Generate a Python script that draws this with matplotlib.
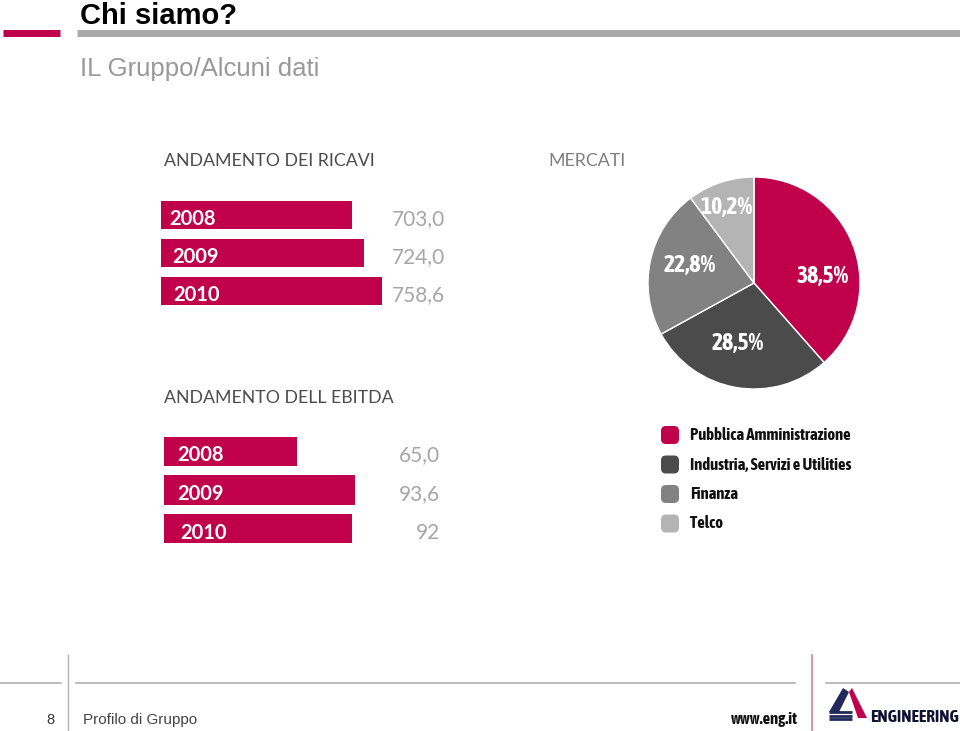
import matplotlib
matplotlib.use("Agg")
import numpy as np
import matplotlib.pyplot as plt
from matplotlib.patches import FancyBboxPatch, Polygon
from matplotlib.transforms import blended_transform_factory

# --- data ---
rev_years = ["2008", "2009", "2010"]
rev_values = [703.0, 724.0, 758.6]
rev_labels = ["703,0", "724,0", "758,6"]

ebitda_years = ["2008", "2009", "2010"]
ebitda_values = [65.0, 93.6, 92.0]
ebitda_labels = ["65,0", "93,6", "92"]

markets = ["Pubblica Amministrazione", "Industria, Servizi e Utilities", "Finanza", "Telco"]
market_share = [38.5, 28.5, 22.8, 10.2]
market_colors = ["#c0004a", "#4b4b4b", "#828282", "#b4b4b4"]

RED = "#c0004a"
W, H = 960, 731
BODY = ["Lato", "DejaVu Sans"]
COND = dict(family=["Asap Condensed", "DejaVu Sans"], fontweight="bold")

fig = plt.figure(figsize=(W / 100, H / 100), dpi=100)


def px_axes(left, top, width, height):
    # axes placed in pixel coords (origin top-left)
    return fig.add_axes([left / W, 1 - (top + height) / H, width / W, height / H])


def hbar_panel(ax, years, values, labels, xlim, year_x, value_x):
    pos = range(len(values))
    ax.barh(list(pos), values, height=0.76, color=RED, left=0)
    ax.set_xlim(*xlim)
    ax.set_ylim(len(values) - 0.5, -0.5)
    ax.axis("off")
    tr = blended_transform_factory(ax.transAxes, ax.transData)
    for i, (yr, lab) in enumerate(zip(years, labels)):
        ax.text(year_x[i], i + 0.1, yr, transform=tr, color="white", fontsize=14.5,
                fontweight="bold", family=BODY, va="center", ha="left")
        ax.text(value_x, i + 0.1, lab, transform=tr, color="#a6a6a6", fontsize=15,
                family=BODY, va="center", ha="right")


# overlay for page furniture
ov = fig.add_axes([0, 0, 1, 1])
ov.set_xlim(0, W)
ov.set_ylim(H, 0)
ov.axis("off")
ov.patch.set_alpha(0)

ov.text(80, 24, "Chi siamo?", fontsize=21, fontweight="bold", family="Liberation Sans",
        color="black", va="baseline")
ov.plot([3, 60], [33, 33], color=RED, lw=5, solid_capstyle="butt")
ov.plot([77, 960], [33, 33], color="#aaaaaa", lw=5, solid_capstyle="butt")
ov.text(80, 76, "IL Gruppo/Alcuni dati", fontsize=18.5, family="Liberation Sans",
        color="#999999", va="baseline")

ov.text(164, 166, "ANDAMENTO DEI RICAVI", fontsize=12.8, family=BODY, color="#4d4d4d",
        va="baseline")
ov.text(548, 166, "MERCATI", fontsize=12.8, family=BODY, color="#7f7f7f", va="baseline")
ov.text(164, 403, "ANDAMENTO DELL EBITDA", fontsize=12.8, family=BODY, color="#4d4d4d",
        va="baseline")

# revenue bars: axis cut at 349 so bar lengths match the slide
ax1 = px_axes(161, 196, 300, 114)
hbar_panel(ax1, rev_years, rev_values, rev_labels, (349, 349 + 300 / 0.54),
           [0.028, 0.038, 0.04], 0.947)

# EBITDA bars
ax2 = px_axes(164, 432, 300, 116)
hbar_panel(ax2, ebitda_years, ebitda_values, ebitda_labels, (0, 300 / 2.04),
           [0.045, 0.045, 0.055], 0.92)

# pie
ax3 = px_axes(648, 177, 212, 212)
wedges, _ = ax3.pie(
    market_share, colors=market_colors, startangle=90, counterclock=False,
    radius=1, wedgeprops=dict(edgecolor="white", linewidth=1.0))
# label placement as on the slide: angle shift (deg) and radius per wedge
lab_shift = [-15, -5, -3, 2]
lab_r = [0.65, 0.59, 0.63, 0.76]
for w, share, dth, r in zip(wedges, market_share, lab_shift, lab_r):
    th = np.deg2rad((w.theta1 + w.theta2) / 2 + dth)
    ax3.text(r * np.cos(th), r * np.sin(th), f"{share:.1f}%".replace(".", ","),
             color="white", fontsize=17, ha="center", va="center", **COND)
ax3.set_xlim(-1, 1)
ax3.set_ylim(-1, 1)
ax3.set_aspect("equal")

# legend
for i, (name, col) in enumerate(zip(markets, market_colors)):
    y = 435 + i * 29.5
    ov.add_patch(FancyBboxPatch((661, y - 9), 18, 18, boxstyle="round,pad=0,rounding_size=5",
                                facecolor=col, edgecolor="none"))
    ov.text(690, y, name, fontsize=12, color="#111111", va="center", **COND)

# footer
for x0, x1 in [(0, 61), (76, 795), (826, 960)]:
    ov.plot([x0, x1], [683, 683], color="#b0b0b0", lw=1.2)
ov.plot([68, 68], [655, 731], color="#b0b0b0", lw=1)
ov.plot([812, 812], [655, 731], color="#d08098", lw=1.2)
ov.text(50, 724, "8", fontsize=10.5, family="Liberation Sans", color="#333333",
        ha="center", va="baseline")
ov.text(83, 724, "Profilo di Gruppo", fontsize=11, family="Liberation Sans",
        color="#444444", va="baseline")
ov.text(798, 724, "www.eng.it", fontsize=12, color="#111111", ha="right",
        va="baseline", **COND)

# logo (rough)
ov.add_patch(Polygon([(829, 712), (843, 688), (849, 692), (839, 712)], closed=True,
                     facecolor="#1f2a5a", edgecolor="none"))
ov.add_patch(Polygon([(849, 692), (852, 688), (867, 718), (858, 718)], closed=True,
                     facecolor=RED, edgecolor="none"))
for k in range(3):
    ov.plot([829, 852], [712 + k * 3.6, 712 + k * 3.6], color="#1f2a5a", lw=2,
            solid_capstyle="butt")
ov.text(870, 722, "ENGINEERING", fontsize=12.5, color="#111133", va="baseline", **COND)

fig.savefig("out.png", dpi=100)
